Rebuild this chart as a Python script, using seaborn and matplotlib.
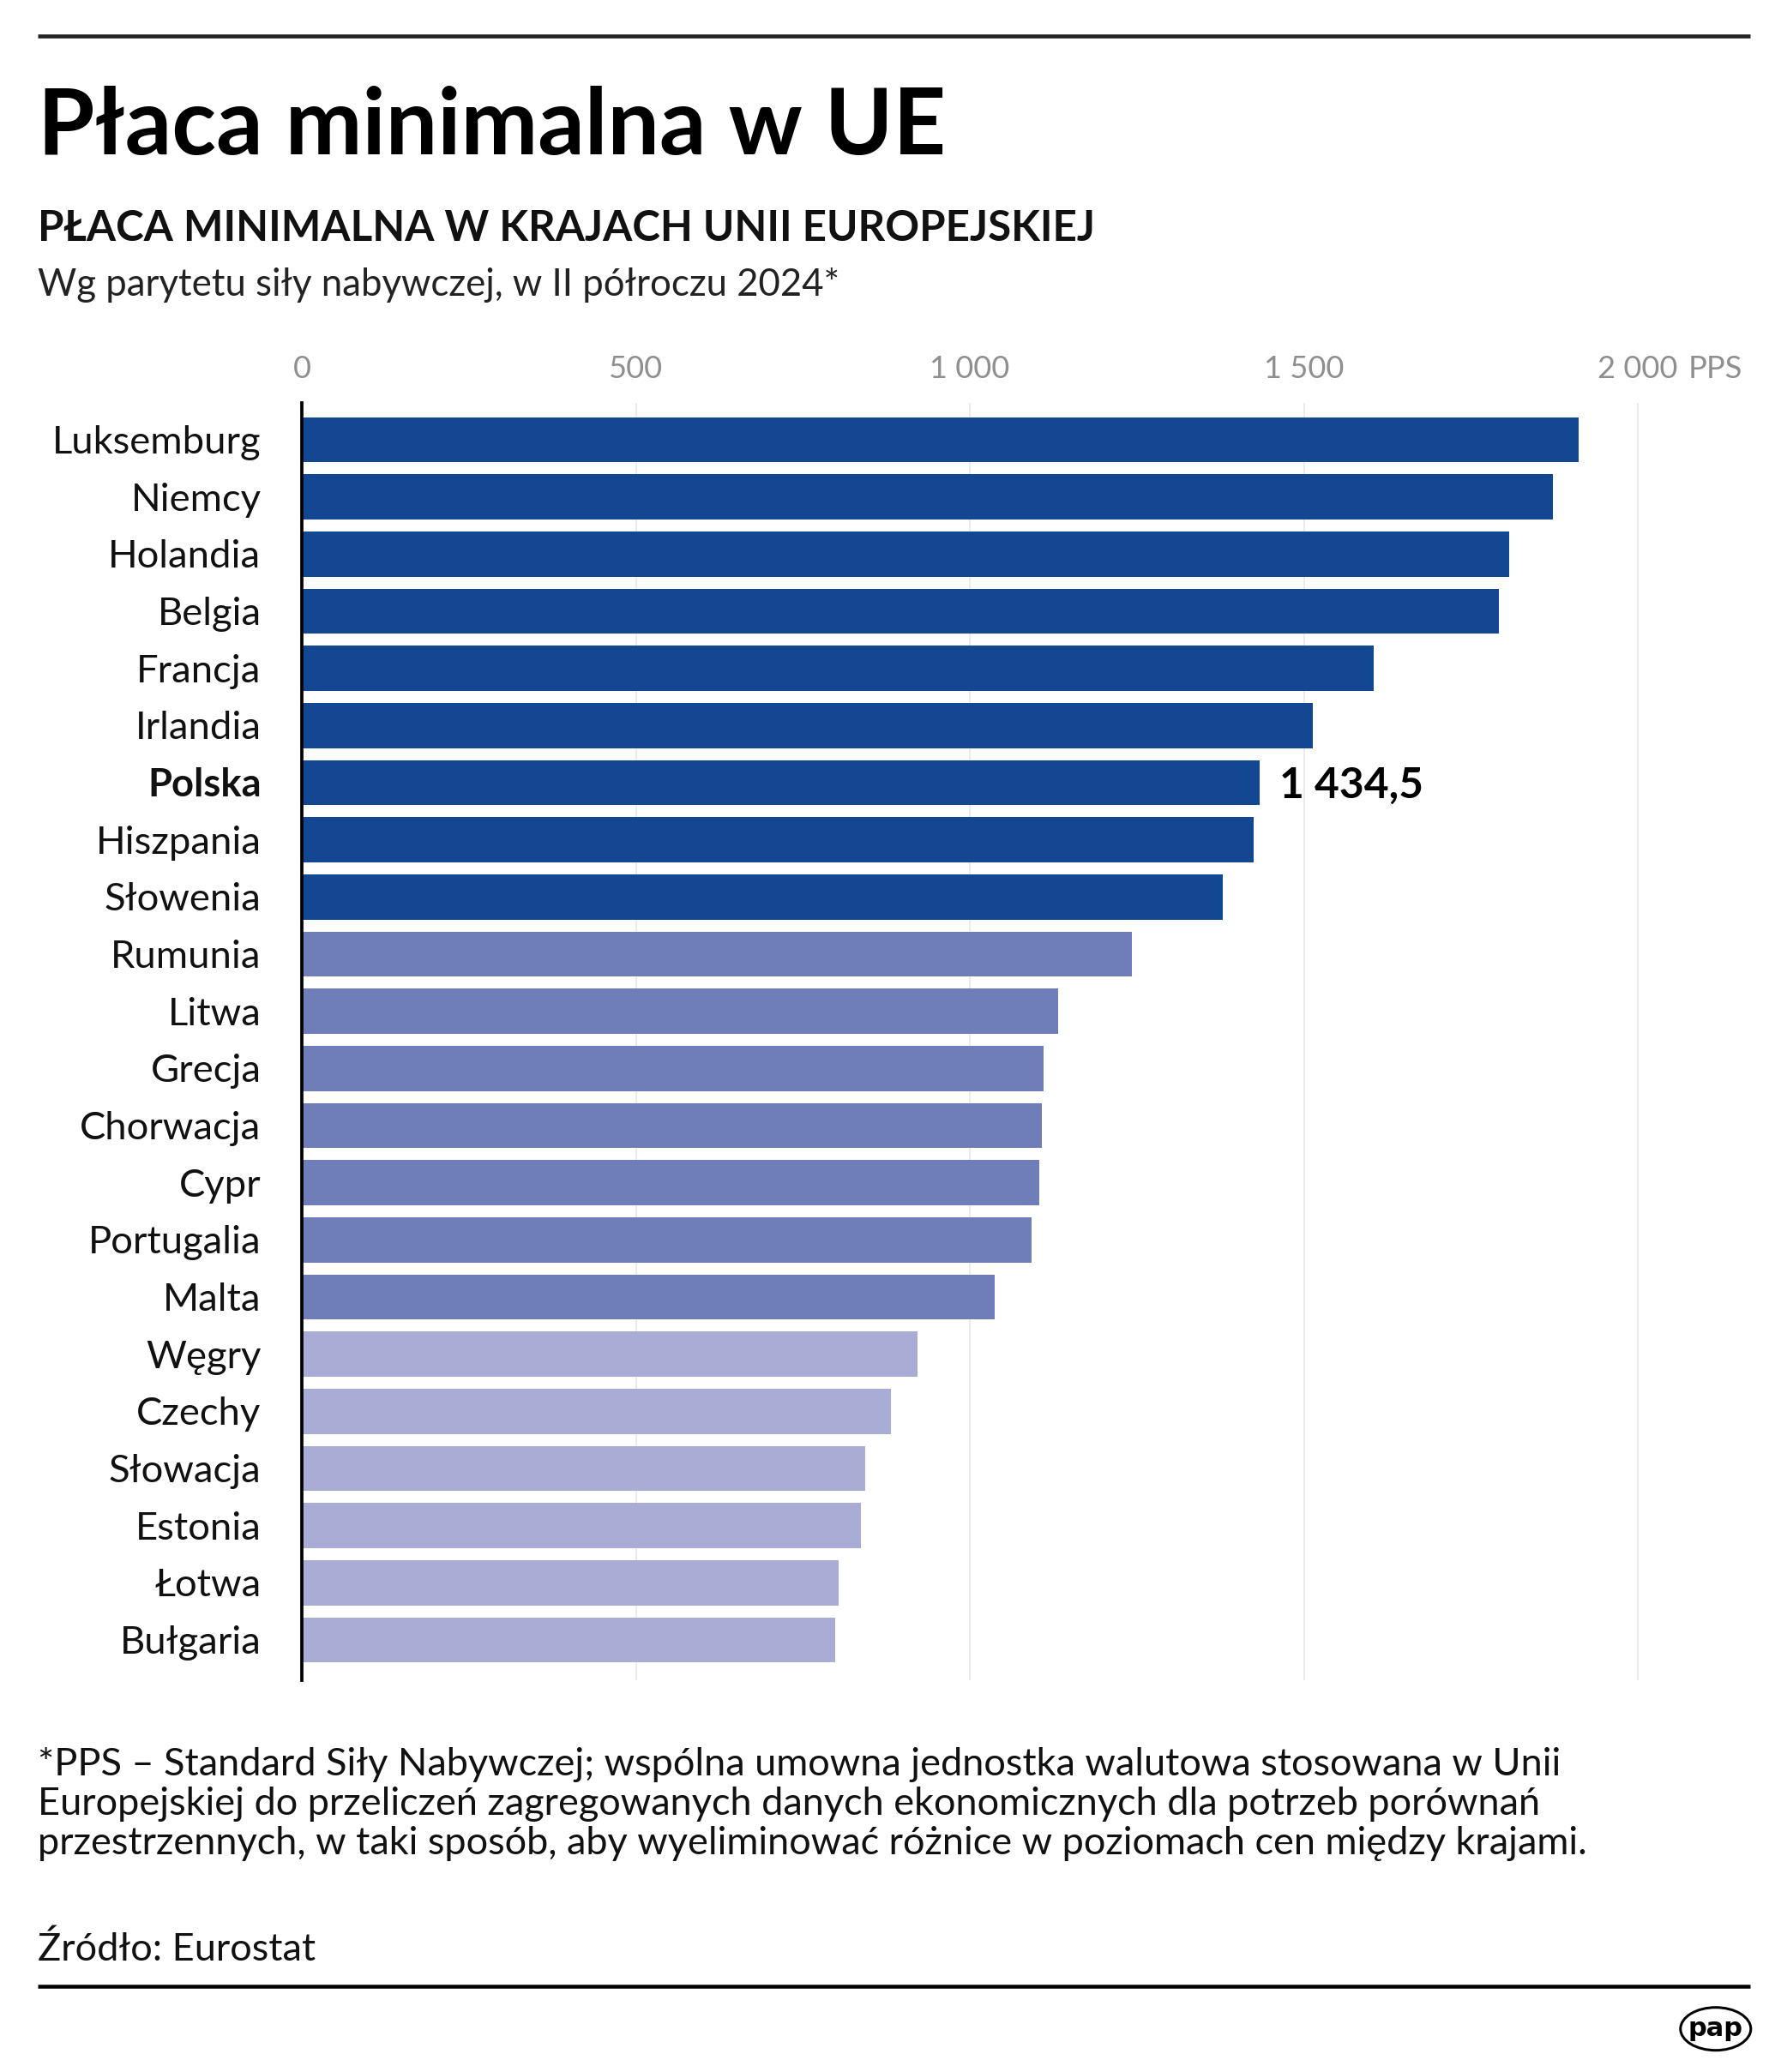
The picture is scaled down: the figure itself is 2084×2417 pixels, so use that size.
import matplotlib
matplotlib.use("Agg")
import matplotlib.pyplot as plt
from matplotlib.patches import Ellipse
from matplotlib.lines import Line2D
from matplotlib.transforms import ScaledTranslation
import numpy as np
import pandas as pd
import seaborn as sns

# ---------------- data ----------------
countries = ["Luksemburg", "Niemcy", "Holandia", "Belgia", "Francja", "Irlandia",
             "Polska", "Hiszpania", "Słowenia", "Rumunia", "Litwa", "Grecja",
             "Chorwacja", "Cypr", "Portugalia", "Malta", "Węgry", "Czechy",
             "Słowacja", "Estonia", "Łotwa", "Bułgaria"]
values = [1912.0, 1873.0, 1807.0, 1792.5, 1604.0, 1513.5,
          1434.5, 1424.5, 1379.0, 1243.0, 1132.0, 1110.0,
          1107.5, 1104.5, 1093.0, 1037.0, 922.0, 882.5,
          843.0, 837.0, 803.5, 798.0]
groups = ["wysoka", "wysoka", "wysoka", "wysoka", "wysoka", "wysoka",
          "wysoka", "wysoka", "wysoka", "średnia", "średnia", "średnia",
          "średnia", "średnia", "średnia", "średnia", "niska", "niska",
          "niska", "niska", "niska", "niska"]
group_colors = {"wysoka": "#134792", "średnia": "#6f7eb9", "niska": "#a9acd4"}
tick_values = [0, 500, 1000, 1500, 2000]
tick_labels = ["0", "500", "1 000", "1 500", "2 000"]
unit = "PPS"
highlight = "Polska"

title = "Płaca minimalna w UE"
subtitle = "PŁACA MINIMALNA W KRAJACH UNII EUROPEJSKIEJ"
subsubtitle = "Wg parytetu siły nabywczej, w II półroczu 2024*"
footnote = ["*PPS – Standard Siły Nabywczej; wspólna umowna jednostka walutowa stosowana w Unii",
            "Europejskiej do przeliczeń zagregowanych danych ekonomicznych dla potrzeb porównań",
            "przestrzennych, w taki sposób, aby wyeliminować różnice w poziomach cen między krajami."]
source = "Źródło: Eurostat"

# ---------------- setup ----------------
sns.set_style("white")
FAM = ["Lato", "DejaVu Sans"]
plt.rcParams["font.family"] = FAM
LIGHT = "normal"

W, H = 2084, 2417
fig = plt.figure(figsize=(W / 100, H / 100), dpi=100)
renderer = fig.canvas.get_renderer()


def px(x, y):
    return x / W, 1 - y / H


def size_for(text, target_w, weight="normal", family=FAM, base=40.0):
    t = fig.text(0, 0, text, fontsize=base, fontweight=weight, family=family)
    w = t.get_window_extent(renderer).width
    t.remove()
    return base * target_w / w


# axes: left 352px, top 470px, bottom 1960px
x_right = 2020
ppu = (1910 - 352) / 2000.0
ax = fig.add_axes([352 / W, 1 - 1960 / H, x_right * ppu / W, 1490 / H])

df = pd.DataFrame({"kraj": countries, "wartosc": values, "grupa": groups})
sns.barplot(data=df, x="wartosc", y="kraj", hue="grupa", palette=group_colors,
            dodge=False, width=0.79, legend=False, saturation=1, linewidth=0,
            orient="h", ax=ax)

ax.set_xlim(0, x_right)
ax.set_ylim(21.705, -0.645)
ax.set_xlabel("")
ax.set_ylabel("")

ax.set_xticks(tick_values)
ax.set_xticklabels(tick_labels)
ax.set_yticks(range(len(countries)))
ax.set_yticklabels(countries)
ax.xaxis.tick_top()

xt_size = size_for("1 500", 93.5, LIGHT)
yt_size = size_for("Luksemburg", 243, LIGHT)
ax.tick_params(axis="x", length=0, pad=29 * 0.72, labelsize=xt_size, labelcolor="#8f8f8f")
ax.tick_params(axis="y", length=0, pad=47.5 * 0.72, labelsize=yt_size, labelcolor="#111111")

ax.grid(axis="x", color="#ebebeb", lw=1.4)
ax.grid(axis="y", visible=False)
ax.set_axisbelow(True)
for s in ["top", "right", "bottom"]:
    ax.spines[s].set_visible(False)
ax.spines["left"].set_linewidth(2.7)
ax.spines["left"].set_color("black")
ax.spines["left"].set_zorder(5)

for lbl in ax.get_xticklabels():
    lbl.set_verticalalignment("baseline")
    lbl.set_fontweight(LIGHT)

shift = ScaledTranslation(0, -16 / 100, fig.dpi_scale_trans)
for lbl in ax.get_yticklabels():
    lbl.set_verticalalignment("baseline")
    lbl.set_transform(lbl.get_transform() + shift)
    lbl.set_fontweight("bold" if lbl.get_text() == highlight else LIGHT)

# value label for highlighted country
hi = countries.index(highlight)
hv = values[hi]
val_txt = f"{hv:,.1f}".replace(",", " ").replace(".", ",")
ax.annotate(val_txt, xy=(hv, hi), xytext=(23 * 0.72, -17.7 * 0.72),
            textcoords="offset points", ha="left", va="baseline",
            fontweight="bold", fontsize=size_for(val_txt, 168, "bold"), color="black")

# unit next to last tick label
fig.canvas.draw()
last = [l for l in ax.get_xticklabels() if l.get_text() == tick_labels[-1]][0]
bb = last.get_window_extent(renderer)
fig.text((bb.x1 + 12) / W, 1 - 441 / H, unit, fontsize=xt_size, fontweight=LIGHT,
         color="#8f8f8f", va="baseline", ha="left")

# ---------------- titles ----------------
fig.text(*px(44, 180), title, fontsize=size_for(title, 1060, "bold"),
         fontweight="bold", va="baseline", ha="left", color="black")
fig.text(*px(44, 281), subtitle, fontsize=size_for(subtitle, 1233, "bold"),
         fontweight="bold", va="baseline", ha="left", color="#111111")
fig.text(*px(44, 345), subsubtitle, fontsize=size_for(subsubtitle, 936, LIGHT),
         fontweight=LIGHT, va="baseline", ha="left", color="#222222")

# ---------------- footer ----------------
fn_size = size_for(footnote[2], 1811, LIGHT)
for line, yb in zip(footnote, [2071, 2117, 2163]):
    fig.text(*px(44, yb), line, fontsize=fn_size, fontweight=LIGHT,
             va="baseline", ha="left", color="#111111")
fig.text(*px(44, 2287), source, fontsize=fn_size, fontweight=LIGHT,
         va="baseline", ha="left", color="#111111")

# rules
fig.add_artist(Line2D([44 / W, 2041 / W], [1 - 41.7 / H] * 2, transform=fig.transFigure,
                      color="#222222", lw=4.6 * 0.72, solid_capstyle="butt"))
fig.add_artist(Line2D([44 / W, 2041 / W], [1 - 2317 / H] * 2, transform=fig.transFigure,
                      color="black", lw=4.5 * 0.72, solid_capstyle="butt"))

# logo
fig.add_artist(Ellipse(px(2000.8, 2366.7), 82 / W, 50 / H, transform=fig.transFigure,
                       fill=False, ec="black", lw=3 * 0.72))
fig.text(*px(2000.8, 2366.7), "pap", fontsize=size_for("pap", 64, "bold", ["DejaVu Sans"]),
         fontweight="bold", family=["DejaVu Sans"], ha="center", va="center", color="black")

fig.savefig("out.png", dpi=100)
